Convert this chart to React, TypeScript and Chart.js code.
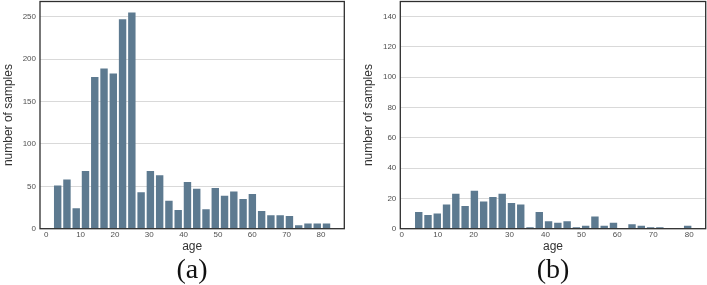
import React, { useEffect, useRef } from "react";
import { Chart, registerables } from "chart.js";

Chart.register(...registerables);

// ---- data ----
const ageBinsA = [
  3.32, 6.02, 8.72, 11.42, 14.12, 16.82, 19.52, 22.22, 24.92, 27.62,
  30.32, 33.02, 35.72, 38.42, 41.12, 43.82, 46.52, 49.22, 51.92, 54.62,
  57.32, 60.02, 62.72, 65.42, 68.12, 70.82, 73.52, 76.22, 78.92, 81.62,
];
const countsA = [
  51, 58, 24, 68, 179, 189, 183, 247, 255, 43,
  68, 63, 33, 22, 55, 47, 23, 48, 39, 44,
  35, 41, 21, 16, 16, 15, 4, 6, 6, 6,
];

const ageBinsB = [
  4.73, 7.31, 9.89, 12.47, 15.05, 17.64, 20.22, 22.8, 25.38, 27.96,
  30.54, 33.12, 35.7, 38.28, 40.86, 43.45, 46.03, 48.61, 51.19, 53.77,
  56.35, 58.93, 61.51, 64.09, 66.67, 69.26, 71.84, 74.42, 77.0, 79.58,
];
const countsB = [
  11, 9, 10, 16, 23, 15, 25, 18, 21, 23,
  17, 16, 1, 11, 5, 4, 5, 1, 2, 8,
  2, 4, 0, 3, 2, 1, 1, 0, 0, 2,
];

const xTitle = "age";
const yTitle = "number of samples";

const BAR_COLOR = "#5d7a90";
const SANS = "'Liberation Sans', Arial, sans-serif";

const framePlugin = {
  id: "frame",
  afterDraw(chart: any) {
    const { ctx, chartArea: a } = chart;
    ctx.save();
    ctx.strokeStyle = "#2e2e2e";
    ctx.lineWidth = 1.3;
    ctx.strokeRect(a.left, a.top, a.right - a.left, a.bottom - a.top);
    ctx.restore();
  },
};

type PanelProps = {
  left: number;
  width: number;
  xs: number[];
  ys: number[];
  xMin: number;
  xMax: number;
  yMax: number;
  yStep: number;
  axisWidth: number;
  padRight: number;
  label: string;
  labelX: number;
};

function Panel(p: PanelProps) {
  const ref = useRef<HTMLCanvasElement | null>(null);
  useEffect(() => {
    if (!ref.current) return;
    const chart = new Chart(ref.current, {
      type: "bar",
      data: {
        datasets: [
          {
            data: p.xs.map((x, i) => ({ x, y: p.ys[i] })),
            backgroundColor: BAR_COLOR,
            borderWidth: 0,
            categoryPercentage: 1,
            barPercentage: 0.8,
          },
        ],
      },
      options: {
        animation: false,
        responsive: false,
        layout: { padding: { top: 1.5, right: p.padRight, bottom: 0, left: 0 } },
        plugins: { legend: { display: false }, tooltip: { enabled: false } },
        scales: {
          x: {
            type: "linear",
            min: p.xMin,
            max: p.xMax,
            offset: false,
            grid: { display: false, drawTicks: false },
            border: { display: false },
            ticks: {
              stepSize: 10,
              includeBounds: false,
              padding: 1,
              maxRotation: 0,
              color: "#505050",
              font: { family: SANS, size: 8 },
            },
            title: {
              display: true,
              text: xTitle,
              color: "#333",
              font: { family: SANS, size: 12 },
              padding: { top: 0, bottom: 31.3 },
            },
            afterFit: (s: any) => {
              s.height = 56.3;
              s.paddingLeft = 0;
              s.paddingRight = 0;
            },
          },
          y: {
            type: "linear",
            min: 0,
            max: p.yMax,
            grid: { color: "#d9d9d9", drawTicks: false, lineWidth: 1 },
            border: { display: false },
            ticks: {
              stepSize: p.yStep,
              includeBounds: false,
              padding: 4,
              color: "#505050",
              font: { family: SANS, size: 8 },
            },
            title: {
              display: true,
              text: yTitle,
              color: "#333",
              font: { family: SANS, size: 12 },
              padding: { top: 1.1, bottom: 0 },
            },
            afterFit: (s: any) => {
              s.width = p.axisWidth;
              s.paddingTop = 0;
              s.paddingBottom = 0;
            },
          },
        },
      } as any,
      plugins: [framePlugin],
    });
    return () => chart.destroy();
  }, []);

  return (
    <>
      <canvas
        ref={ref}
        width={p.width}
        height={285}
        style={{ position: "absolute", left: p.left, top: 0, width: p.width, height: 285 }}
      />
      <div
        style={{
          position: "absolute",
          left: p.labelX,
          top: 254.5,
          transform: "translateX(-50%)",
          fontFamily: "'Liberation Serif', serif",
          fontSize: 28,
          lineHeight: 1,
          color: "#111",
          whiteSpace: "nowrap",
        }}
      >
        {p.label}
      </div>
    </>
  );
}

export default function App() {
  return (
    <div
      style={{
        position: "fixed",
        left: 0,
        top: 0,
        width: 707,
        height: 285,
        overflow: "hidden",
        background: "#fff",
      }}
    >
      <Panel
        left={0}
        width={346}
        xs={ageBinsA}
        ys={countsA}
        xMin={-1.83}
        xMax={86.8}
        yMax={268}
        yStep={50}
        axisWidth={40}
        padRight={1.7}
        label="(a)"
        labelX={192}
      />
      <Panel
        left={360}
        width={347}
        xs={ageBinsB}
        ys={countsB}
        xMin={-0.4}
        xMax={84.6}
        yMax={150}
        yStep={20}
        axisWidth={40.3}
        padRight={1.3}
        label="(b)"
        labelX={553}
      />
    </div>
  );
}
